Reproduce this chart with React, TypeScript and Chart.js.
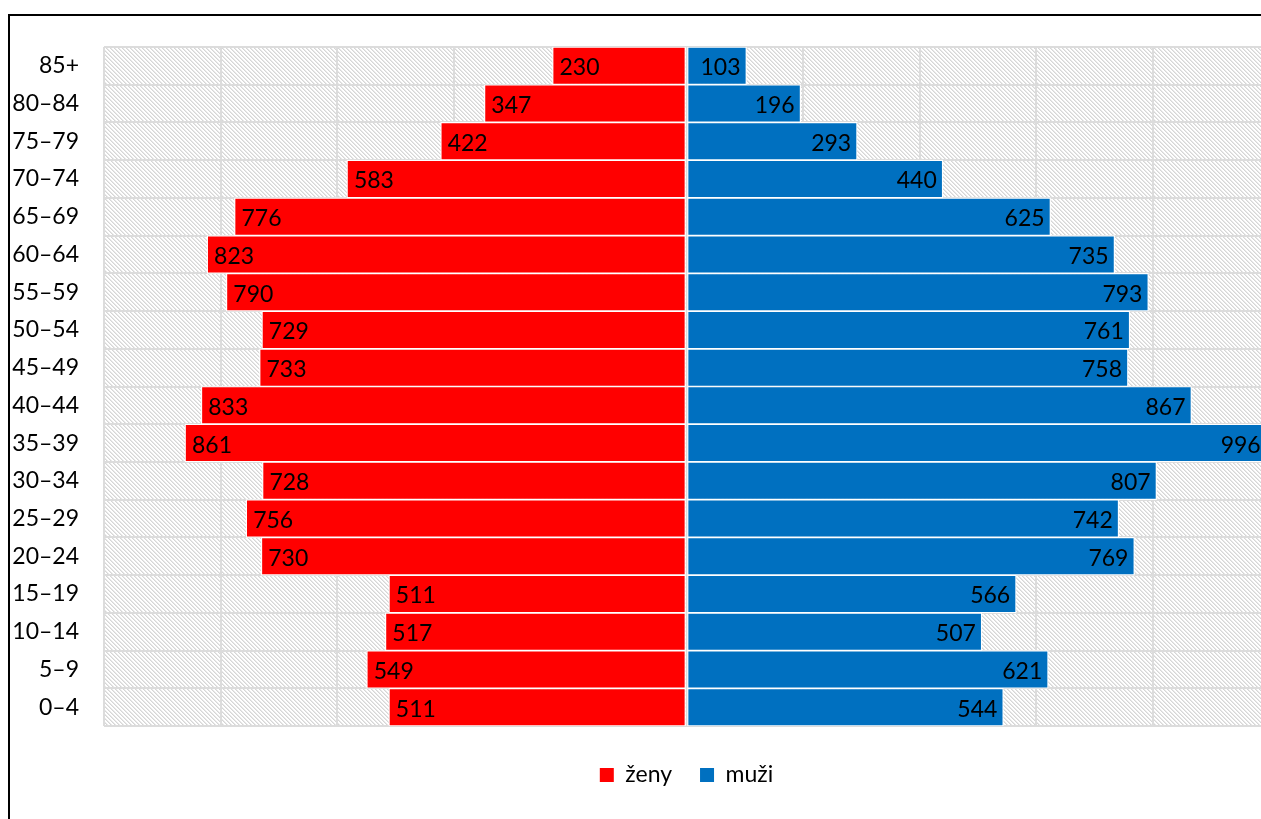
import React, { useEffect, useRef } from "react";
import { Chart, registerables } from "chart.js";

Chart.register(...registerables);

const ageGroups = ["0–4", "5–9", "10–14", "15–19", "20–24", "25–29", "30–34", "35–39", "40–44", "45–49", "50–54", "55–59", "60–64", "65–69", "70–74", "75–79", "80–84", "85+"];
const women = [511, 549, 517, 511, 730, 756, 728, 861, 833, 733, 729, 790, 823, 776, 583, 422, 347, 230];
const men = [544, 621, 507, 566, 769, 742, 807, 996, 867, 758, 761, 793, 735, 625, 440, 293, 196, 103];
const seriesNames = ["ženy", "muži"];
const seriesColors = ["#FF0000", "#0070C0"];
const axisMin = -1000;
const axisMax = 1000;
const axisStep = 200;

const FONT = "Lato";
const FONT_SIZE = 23;

function makeHatch(): CanvasPattern | string {
  const tile = document.createElement("canvas");
  tile.width = 8;
  tile.height = 8;
  const c = tile.getContext("2d");
  if (!c) return "#f2f2f2";
  const img = c.createImageData(8, 8);
  for (let y = 0; y < 8; y++) {
    for (let x = 0; x < 8; x++) {
      const i = (y * 8 + x) * 4;
      const m = (((x - y) % 4) + 4) % 4;
      let v = 255;
      if (m === 0) v = 214;
      else if (m === 1) v = 232;
      img.data[i] = v;
      img.data[i + 1] = v;
      img.data[i + 2] = v;
      img.data[i + 3] = 255;
    }
  }
  c.putImageData(img, 0, 0);
  const main = document.createElement("canvas").getContext("2d");
  const p = main ? main.createPattern(tile, "repeat") : null;
  return p || "#f2f2f2";
}

const hatchPlugin = {
  id: "hatchBg",
  beforeDraw(chart: any) {
    const { ctx, chartArea } = chart;
    if (!chart.$hatch) chart.$hatch = makeHatch();
    ctx.save();
    ctx.fillStyle = chart.$hatch;
    ctx.fillRect(chartArea.left, chartArea.top, chartArea.right - chartArea.left, chartArea.bottom - chartArea.top);
    ctx.restore();
  },
};

const valueLabelPlugin = {
  id: "valueLabels",
  afterDatasetsDraw(chart: any) {
    const { ctx } = chart;
    ctx.save();
    ctx.font = `${FONT_SIZE}px ${FONT}`;
    ctx.fillStyle = "#000";
    ctx.textBaseline = "middle";
    chart.data.datasets.forEach((ds: any, di: number) => {
      const meta = chart.getDatasetMeta(di);
      meta.data.forEach((el: any, i: number) => {
        const v = ds.data[i];
        const txt = String(Math.abs(v));
        const { x, y } = el.getProps(["x", "y"], true);
        if (v < 0) {
          ctx.textAlign = "left";
          ctx.fillText(txt, x + 7, y + 2);
        } else {
          ctx.textAlign = "right";
          ctx.fillText(txt, x - 6, y + 2);
        }
      });
    });
    ctx.restore();
  },
};

export default function App() {
  const ref = useRef<HTMLCanvasElement | null>(null);

  useEffect(() => {
    if (!ref.current) return;
    const chart = new Chart(ref.current, {
      type: "bar",
      data: {
        labels: ageGroups,
        datasets: [
          {
            label: seriesNames[0],
            data: women.map((v) => -v),
            backgroundColor: seriesColors[0],
            borderColor: "#ffffff",
            borderWidth: 1.2,
            borderSkipped: false,
            barPercentage: 1,
            categoryPercentage: 1,
          },
          {
            label: seriesNames[1],
            data: men,
            backgroundColor: seriesColors[1],
            borderColor: "#ffffff",
            borderWidth: 1.2,
            borderSkipped: false,
            barPercentage: 1,
            categoryPercentage: 1,
          },
        ],
      },
      options: {
        indexAxis: "y",
        responsive: false,
        animation: false,
        devicePixelRatio: 1,
        layout: { padding: { left: 0, right: 31, top: 31, bottom: 22.5 } },
        scales: {
          x: {
            stacked: true,
            min: axisMin,
            max: axisMax,
            ticks: { display: false, stepSize: axisStep },
            grid: { color: "#dcdcdc", lineWidth: 2, drawTicks: false },
            border: { display: false },
            afterFit(scale: any) {
              scale.height = 9.5;
              scale.paddingLeft = 0;
              scale.paddingRight = 0;
            },
          },
          y: {
            stacked: true,
            reverse: true,
            ticks: {
              color: "#000",
              padding: 25,
              font: { family: FONT, size: FONT_SIZE },
            },
            grid: { color: "#dcdcdc", lineWidth: 2, drawTicks: false, offset: true },
            border: { display: false },
            afterFit(scale: any) {
              scale.width = 94;
              scale.paddingTop = 0;
              scale.paddingBottom = 0;
            },
          },
        },
        plugins: {
          tooltip: { enabled: false },
          legend: {
            position: "bottom",
            fullSize: false,
            labels: {
              boxWidth: 14,
              boxHeight: 14,
              padding: 28,
              color: "#000",
              font: { family: FONT, size: FONT_SIZE },
              generateLabels(c: any) {
                return c.data.datasets.map((ds: any, i: number) => ({
                  text: ds.label,
                  fillStyle: ds.backgroundColor,
                  strokeStyle: ds.backgroundColor,
                  lineWidth: 0,
                  fontColor: "#000",
                  hidden: false,
                  datasetIndex: i,
                }));
              },
            },
          },
        },
      },
      plugins: [hatchPlugin, valueLabelPlugin],
    } as any);
    return () => chart.destroy();
  }, []);

  return (
    <div
      style={{
        position: "fixed",
        left: 8,
        top: 14,
        width: 1253,
        height: 805,
        overflow: "hidden",
        borderLeft: "2px solid #000",
        borderTop: "2px solid #000",
        boxSizing: "border-box",
        background: "#fff",
      }}
    >
      <canvas ref={ref} width={1290} height={803} style={{ display: "block", width: 1290, height: 803 }} />
    </div>
  );
}
